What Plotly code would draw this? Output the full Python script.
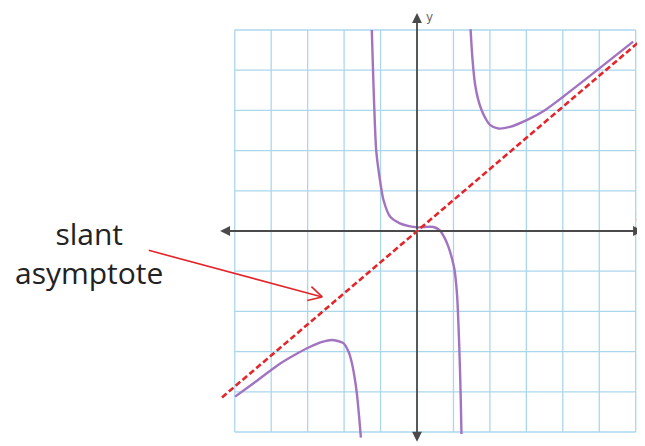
import math
import plotly.graph_objects as go

# grid extent (data units)
grid_x = list(range(-5, 7))
grid_y = list(range(-5, 6))

# middle branch of the curve (through the origin)
mid_x = [-1.24, -1.21, -1.18, -1.12, -1.03, -0.92, -0.74, -0.47, -0.22, 0.0, 0.22, 0.45, 0.62, 0.75, 0.86, 0.97, 1.03, 1.10, 1.16, 1.20, 1.22]
mid_y = [5.0, 4.1, 3.26, 2.01, 1.35, 0.77, 0.36, 0.19, 0.12, 0.09, 0.1, 0.1, 0.02, -0.16, -0.39, -0.72, -0.97, -1.6, -2.88, -4.16, -5.05]

# right branch
right_x = [1.47, 1.52, 1.59, 1.67, 1.77, 1.88, 2.0, 2.23, 2.55, 3.01, 3.5, 4.01, 4.9, 5.93]
right_y = [5.02, 4.3, 3.67, 3.3, 3.01, 2.8, 2.64, 2.55, 2.59, 2.76, 3.0, 3.34, 3.97, 4.71]

# left branch
left_x = [-4.99, -4.4, -3.84, -3.35, -2.93, -2.6, -2.34, -2.02, -1.88, -1.79, -1.72, -1.65, -1.59, -1.54]
left_y = [-4.12, -3.73, -3.35, -3.08, -2.88, -2.76, -2.71, -2.79, -3.0, -3.27, -3.6, -4.04, -4.6, -5.14]

# slant asymptote
asym_x = [-5.35, 6.2]
asym_y = [-4.14, 4.79]

# axis arrow tips
xaxis_ends = [-5.4, 6.2]
yaxis_ends = [-5.24, 5.42]

label_text = "slant<br>asymptote"
label_tip = (-2.60, -1.64)

GRID = "#aad7ec"
CURVE = "#a173c0"
RED = "#e2262b"
AXIS = "#4a4a4a"

# the page puts the figure 8px in from the top-left corner
W, H = 637, 438
OX, OY = 409, 223      # origin in figure pixels
SX, SY = 36.45, 40.2   # pixels per unit

fig = go.Figure()

shapes = []
for gx in grid_x:
    shapes.append(dict(type="line", x0=gx, x1=gx, y0=grid_y[0], y1=grid_y[-1],
                       line=dict(color=GRID, width=1.3), layer="below"))
for gy in grid_y:
    shapes.append(dict(type="line", x0=grid_x[0], x1=grid_x[-1], y0=gy, y1=gy,
                       line=dict(color=GRID, width=1.3), layer="below"))

for bx, by in [(mid_x, mid_y), (right_x, right_y), (left_x, left_y)]:
    fig.add_trace(go.Scatter(x=bx, y=by, mode="lines",
                             line=dict(color=CURVE, width=2.4, shape="spline", smoothing=0.7),
                             hoverinfo="skip"))

fig.add_trace(go.Scatter(x=asym_x, y=asym_y, mode="lines",
                         line=dict(color=RED, width=2.6, dash="6px,3px"),
                         hoverinfo="skip"))

annotations = []
# axes with arrowheads
for tip in xaxis_ends:
    annotations.append(dict(x=tip, y=0, ax=0, ay=0, axref="x", ayref="y", text="",
                            showarrow=True, arrowhead=2, arrowsize=1.1, arrowwidth=1.8,
                            arrowcolor=AXIS, standoff=0))
for tip in yaxis_ends:
    annotations.append(dict(x=0, y=tip, ax=0, ay=0, axref="x", ayref="y", text="",
                            showarrow=True, arrowhead=2, arrowsize=1.1, arrowwidth=1.8,
                            arrowcolor=AXIS, standoff=0))
annotations.append(dict(x=0, y=yaxis_ends[1], text="y", showarrow=False, xanchor="left",
                        yanchor="middle", xshift=7, yshift=-4,
                        font=dict(family="DejaVu Sans", size=12, color="#666")))
annotations.append(dict(x=1, y=0, xref="paper", text="x", showarrow=False, xanchor="right",
                        yanchor="bottom", yshift=6,
                        font=dict(family="DejaVu Sans", size=11, color="#888")))

# pointer arrow to the asymptote, with an open V head
tail = (-175, -47)
annotations.append(dict(x=label_tip[0], y=label_tip[1], ax=tail[0], ay=tail[1], text="",
                        showarrow=True, arrowhead=0, arrowwidth=1.6, arrowcolor=RED,
                        standoff=0, startstandoff=0))
ang = math.atan2(tail[1], tail[0])
for d in (-0.5, 0.5):
    annotations.append(dict(x=label_tip[0], y=label_tip[1],
                            ax=17 * math.cos(ang + d), ay=17 * math.sin(ang + d), text="",
                            showarrow=True, arrowhead=0, arrowwidth=1.6, arrowcolor=RED,
                            standoff=0, startstandoff=0))

annotations.append(dict(x=81 / W, y=1 - 245 / H, xref="paper", yref="paper", text=label_text,
                        showarrow=False, xanchor="center", yanchor="middle", align="center",
                        font=dict(family="Open Sans", size=30, color="#222")))

fig.update_layout(
    width=W, height=H, autosize=False,
    margin=dict(l=0, r=0, t=0, b=0),
    paper_bgcolor="white", plot_bgcolor="white",
    showlegend=False,
    shapes=shapes, annotations=annotations,
    xaxis=dict(range=[-OX / SX, (W - OX) / SX], visible=False, fixedrange=True),
    yaxis=dict(range=[-(H - OY) / SY, OY / SY], visible=False, fixedrange=True),
)

fig.write_html("out.html")
